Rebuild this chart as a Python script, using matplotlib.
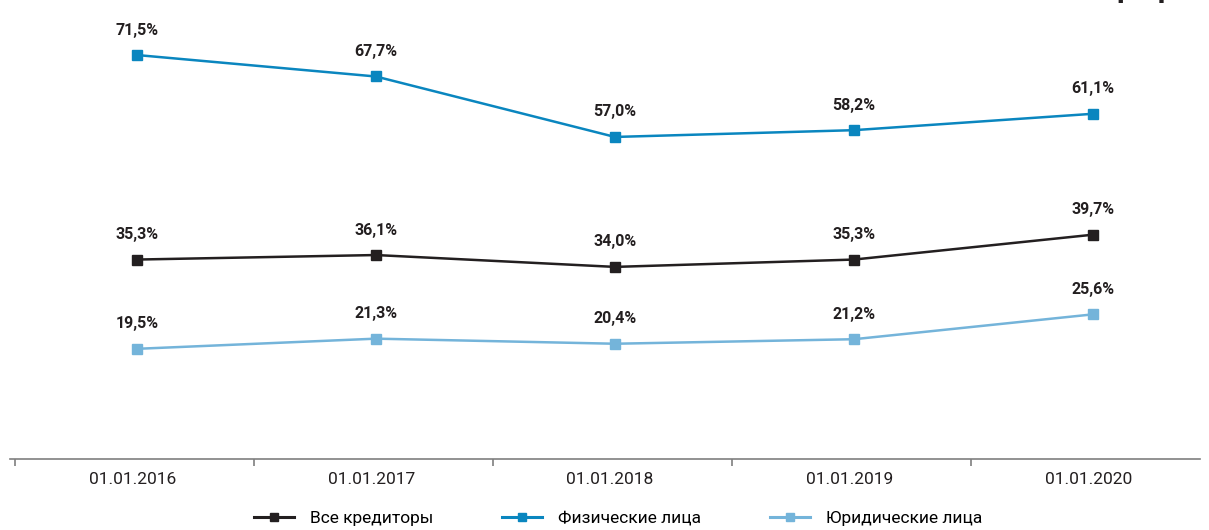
import matplotlib.pyplot as plt
from matplotlib.lines import Line2D

plt.rcParams['font.family'] = ['Roboto', 'DejaVu Sans']

dates = ['01.01.2016', '01.01.2017', '01.01.2018', '01.01.2019', '01.01.2020']
all_creditors = [35.3, 36.1, 34.0, 35.3, 39.7]
individuals = [71.5, 67.7, 57.0, 58.2, 61.1]
legal_entities = [19.5, 21.3, 20.4, 21.2, 25.6]
series_names = ['Все кредиторы', 'Физические лица', 'Юридические лица']
colors = ['#231f20', '#0a86bf', '#74b4da']

fig = plt.figure(figsize=(12.09, 5.30), dpi=100)
# axes placed in pixel terms: x 10..1200, y 459..7
ax = fig.add_axes([10 / 1209, (530 - 459) / 530, 1190 / 1209, 452 / 530])

x = list(range(len(dates)))
for vals, col in zip([all_creditors, individuals, legal_entities], colors):
    ax.plot(x, vals, color=col, lw=1.8, marker='s', markersize=6.5, zorder=3)
    for xi, v in zip(x, vals):
        ax.annotate(f'{v:.1f}%'.replace('.', ','), (xi, v), xytext=(0, 18),
                    textcoords='offset points', ha='center', va='center',
                    fontsize=11.5, fontweight='bold', color='#231f20')

ax.set_xlim(-0.531, 4.448)
ax.set_ylim(0, 80)
ax.set_yticks([])
ax.set_xticks([t - 0.51 for t in x], minor=False)
ax.set_xticklabels([])
ax.set_xticks([t - 0.02 for t in x], minor=True)
ax.set_xticklabels(dates, minor=True, fontsize=12.5, color='#231f20')
ax.tick_params(axis='x', which='major', length=5, color='#7f7f7f', width=1.2)
ax.tick_params(axis='x', which='minor', length=0, pad=9)
for s in ['top', 'right', 'left']:
    ax.spines[s].set_visible(False)
ax.spines['bottom'].set_color('#7f7f7f')
ax.spines['bottom'].set_linewidth(1.2)

handles = [Line2D([], [], color=c, lw=2.2, marker='s', markersize=6) for c in colors]
fig.legend(handles, series_names, loc='center', bbox_to_anchor=(618 / 1209, 1 - 518 / 530),
           ncol=3, frameon=False, fontsize=12.5, handlelength=2.3, columnspacing=4.0,
           handletextpad=0.9)

# caption clipped by the top edge of the page, as in the source
fig.text(1100 / 1209, 1.0 + 3 / 530, 'График', fontsize=22, fontweight='bold',
         color='#231f20', va='baseline', ha='left')

fig.savefig('out.png', dpi=100)
